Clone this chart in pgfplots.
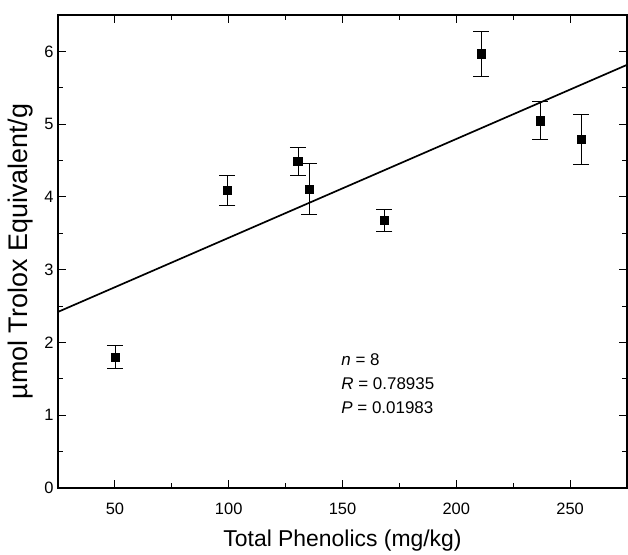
\documentclass[border=0pt]{standalone}
\usepackage{pgfplots}
\pgfplotsset{compat=1.18}
\usepackage{fontspec}
\setmainfont{Liberation Sans}
\begin{document}
\begin{tikzpicture}
\begin{axis}[
  scale only axis, width=569bp, height=473bp,
  xmin=25, xmax=275, ymin=0, ymax=6.5,
  xtick={50,100,150,200,250}, minor x tick num=1,
  ytick={0,1,2,3,4,5,6}, minor y tick num=1,
  tick align=inside, major tick length=8bp, minor tick length=5bp,
  tick style={line width=1pt, black},
  axis line style={line width=1.3pt},
  /pgf/number format/assume math mode=true,
  ticklabel style={font=\fontsize{16.5}{18}\selectfont},
  xticklabel style={yshift=-11bp},
  yticklabel style={xshift=-1bp},
  xlabel={Total Phenolics (mg/kg)},
  ylabel={µmol Trolox Equivalent/g},
  xlabel style={font=\fontsize{23}{26}\selectfont, yshift=-9bp},
  ylabel style={font=\fontsize{27}{30}\selectfont, yshift=4bp},
  clip=true,
]
\addplot[black, line width=1.7pt] coordinates {(25,2.42) (275,5.815)};
\addplot[only marks, mark=square*, mark options={fill=black, draw=black}, mark size=4.2bp,
  error bars/.cd, y dir=both, y explicit,
  error bar style={line width=0.6pt, black},
  error mark options={rotate=90, mark size=8bp, line width=0.9pt, black}]
  table[x=x, y=y, y error=e] {
x y e
50 1.80 0.16
99.4 4.09 0.21
130.4 4.49 0.19
135.3 4.11 0.35
168.4 3.68 0.15
210.9 5.97 0.31
236.8 5.05 0.26
254.8 4.79 0.35
};
\node[anchor=west, font=\fontsize{17}{19}\selectfont] at (axis cs:148,1.77) {\textit{n} = 8};
\node[anchor=west, font=\fontsize{17}{19}\selectfont] at (axis cs:148,1.44) {\textit{R} = 0.78935};
\node[anchor=west, font=\fontsize{17}{19}\selectfont] at (axis cs:148,1.11) {\textit{P} = 0.01983};
\end{axis}
\path[use as bounding box] (-58bp,-65bp) rectangle (570bp,488bp);
\end{tikzpicture}
\end{document}
